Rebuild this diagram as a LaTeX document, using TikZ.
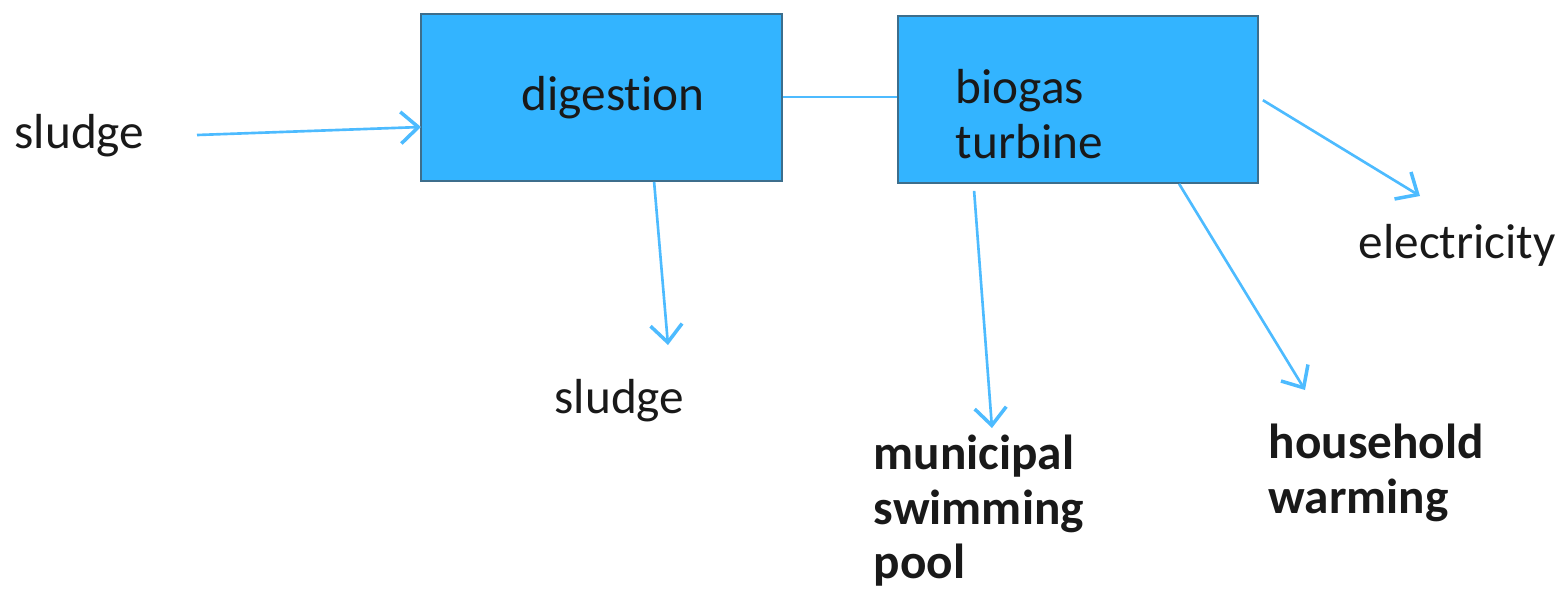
\documentclass[tikz,border=0pt]{standalone}
\usepackage{fontspec}
\setmainfont{Carlito}[Ligatures=NoCommon]
\usetikzlibrary{arrows.meta,calc}
\definecolor{boxfill}{HTML}{33B4FF}
\definecolor{boxline}{HTML}{3D6E8C}
\definecolor{arrowc}{HTML}{4DBBFF}
\tikzset{
  procbox/.style={draw=boxline, line width=0.45pt, fill=boxfill, inner sep=0pt},
  lbl/.style={inner sep=0pt, font=\fontsize{14}{15.6}\selectfont, text=black!90},
  blbl/.style={lbl, font=\fontsize{14}{15.6}\selectfont\bfseries, align=left},
  flow/.style={draw=arrowc, line width=0.75pt, -{Straight Barb[length=5pt,width=9pt,line width=1pt]}},
  link/.style={draw=arrowc, line width=0.75pt}
}
\begin{document}
\begin{tikzpicture}[x=0.01cm,y=-0.01cm]
\useasboundingbox (0,0) rectangle (1560,590);
% boxes
\node[procbox, minimum width=3.61cm, minimum height=1.67cm] (dig) at (601.5,97.5) {};
\node[procbox, minimum width=3.60cm, minimum height=1.67cm] (bio) at (1078,99.5) {};
% box labels
\node[lbl, anchor=base] (digl) at (613,110) {digestion};
\node[lbl, align=left, anchor=north west] (biol) at (955,69) {biogas\\turbine};
% outer labels
\node[lbl, anchor=base west] (sin) at (14,148) {sludge};
\node[lbl, anchor=base west] (sout) at (554,413) {sludge};
\node[lbl, anchor=base west] (elec) at (1358,258) {electricity};
\node[blbl, anchor=north west] (pool) at (873,434) {municipal\\swimming\\pool};
\node[blbl, anchor=north west] (house) at (1268,423) {household\\warming};
% arrow end points
\coordinate (sinA) at (197,135);
\coordinate (sinB) at (421,127);
\coordinate (soutB) at (668,345);
\coordinate (poolB) at (992,428);
\coordinate (houseB) at (1305,390);
\coordinate (elecB) at (1420,196);
% connectors
\draw[flow] (sinA) -- (sinB);
\draw[link] (dig.east |- 0,97) -- (bio.west |- 0,97);
\draw[flow] ($(dig.south west)+(234,0)$) -- (soutB);
\draw[flow] ($(bio.south west)+(77,7)$) -- (poolB);
\draw[flow] ($(bio.south west)+(282,0)$) -- (houseB);
\draw[flow] ($(bio.north east)+(4,85)$) -- (elecB);
\end{tikzpicture}
\end{document}
